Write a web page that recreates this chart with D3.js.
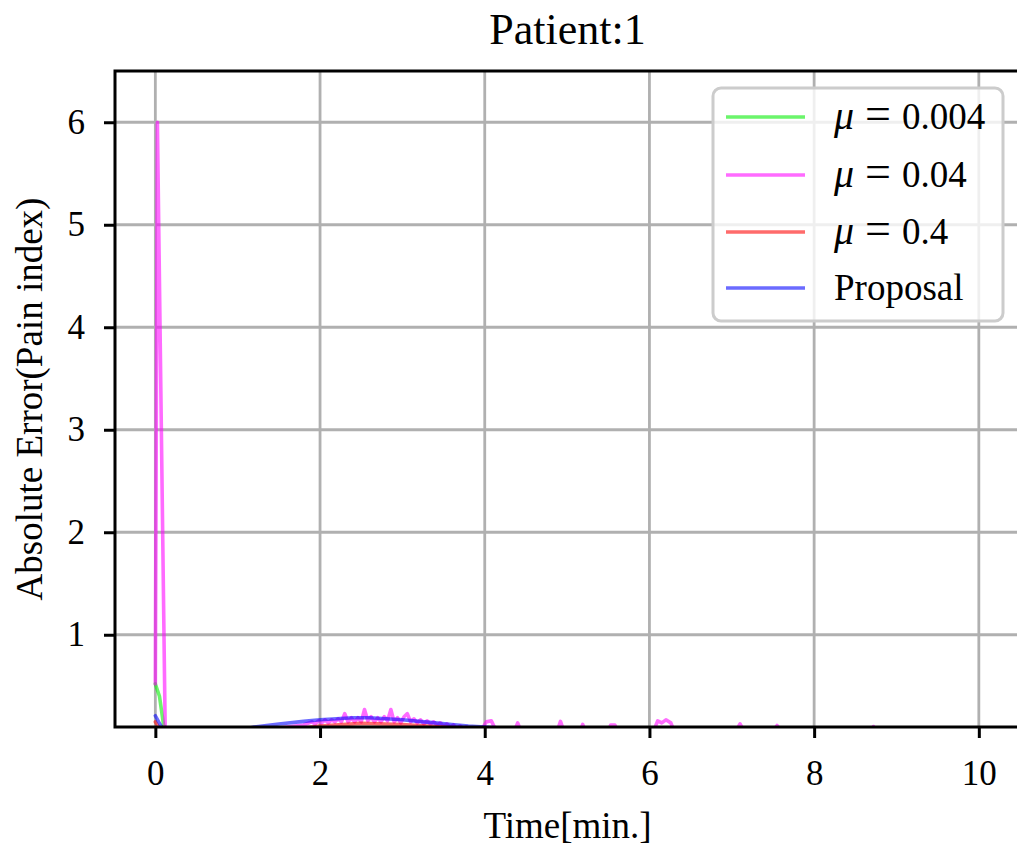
<!DOCTYPE html>
<html>
<head>
<meta charset="utf-8">
<script src="https://cdn.jsdelivr.net/npm/d3@7"></script>
<style>
  html, body { margin: 0; padding: 0; background: #fff; }
  svg { display: block; }
  text { font-family: "Liberation Serif", "Times New Roman", serif; fill: #000; }
</style>
</head>
<body>
<svg id="chart" width="1017" height="846"></svg>
<script>
// Absolute error of pain-index estimates over time, patient 1

const xTicks = [0, 2, 4, 6, 8, 10];
const yTicks = [1, 2, 3, 4, 5, 6];

const seriesNames = ["\u03bc = 0.004", "\u03bc = 0.04", "\u03bc = 0.4", "Proposal"];
const seriesColors = ["#00ee00", "#ff00ff", "#ff0000", "#0000ff"];

// μ = 0.004
const timeA = [0, 0.05, 0.1, 0.14, 1.5, 2.0, 2.5, 3.0, 3.5, 4.0, 10];
const errA  = [0.52, 0.4, 0.12, 0.05, 0.05, 0.07, 0.09, 0.085, 0.07, 0.05, 0.04];

// μ = 0.04
const timeB = [0, 0.025, 0.12, 0.3, 1.0, 1.4, 1.6, 1.8,
  1.90, 1.94, 1.98, 2.02, 2.06, 2.10, 2.14, 2.18, 2.22, 2.26, 2.30, 2.34,
  2.38, 2.42, 2.46, 2.50, 2.54, 2.58, 2.62, 2.66, 2.70, 2.74, 2.78, 2.82,
  2.86, 2.90, 2.94, 2.98, 3.02, 3.06, 3.10, 3.14, 3.18, 3.22, 3.26, 3.30,
  3.34, 3.38, 3.42, 3.46, 3.50, 3.54, 3.58, 3.62, 3.66, 3.70, 3.74, 3.78,
  3.82, 3.86, 3.90, 3.95, 4.02, 4.08, 4.14, 4.36, 4.40, 4.44, 4.88, 4.92,
  4.96, 5.16, 5.19, 5.22, 5.50, 5.53, 5.58, 5.61, 6.05, 6.10, 6.15, 6.20,
  6.26, 6.30, 7.05, 7.10, 7.15, 7.50, 7.55, 7.60, 8.70, 8.72, 8.75, 10];
const errB = [0.52, 6.0, 0.05, 0.04, 0.05, 0.08, 0.1, 0.12,
  0.15, 0.13, 0.16, 0.14, 0.17, 0.14, 0.17, 0.15, 0.18, 0.15, 0.23, 0.15,
  0.19, 0.15, 0.19, 0.15, 0.27, 0.16, 0.20, 0.15, 0.19, 0.15, 0.20, 0.16,
  0.27, 0.15, 0.19, 0.14, 0.20, 0.23, 0.15, 0.18, 0.14, 0.17, 0.13, 0.16,
  0.13, 0.15, 0.12, 0.14, 0.11, 0.13, 0.10, 0.12, 0.09, 0.11, 0.085, 0.10,
  0.08, 0.09, 0.07, 0.06, 0.15, 0.16, 0.06, 0.06, 0.14, 0.06, 0.06, 0.155,
  0.06, 0.06, 0.125, 0.06, 0.06, 0.12, 0.12, 0.06, 0.06, 0.16, 0.14, 0.17,
  0.14, 0.06, 0.06, 0.13, 0.06, 0.06, 0.115, 0.06, 0.06, 0.105, 0.06, 0.05];

// μ = 0.4
const timeC = [0, 0.05, 0.2, 1.5, 2.0, 2.5, 3.0, 3.5, 4.0, 10];
const errC  = [0.15, 0.08, 0.05, 0.06, 0.11, 0.135, 0.125, 0.1, 0.07, 0.05];

// Proposal
const timeD = [0, 0.04, 0.09, 0.2, 1.0, 1.2, 1.5, 1.8, 2.0, 2.2, 2.4, 2.6,
  2.8, 3.0, 3.2, 3.4, 3.6, 3.8, 4.0, 4.2, 5.0, 10];
const errD  = [0.21, 0.15, 0.08, 0.05, 0.06, 0.1, 0.13, 0.155, 0.17, 0.18,
  0.19, 0.19, 0.18, 0.17, 0.155, 0.14, 0.125, 0.11, 0.1, 0.09, 0.08, 0.08];

const times = [timeA, timeB, timeC, timeD];
const errs  = [errA, errB, errC, errD];

const svg = d3.select("#chart");
const margin = { left: 115, right: -3, top: 71, bottom: 119 };
const W = 1017, H = 846;
const x = d3.scaleLinear().domain([-0.49, 10.5]).range([margin.left, W - margin.right]);
const y = d3.scaleLinear().domain([0.1, 6.5]).range([H - margin.bottom, margin.top]);

const x0 = x.range()[0], x1 = x.range()[1];
const y0 = y.range()[0], y1 = y.range()[1];

svg.append("defs").append("clipPath").attr("id", "plotClip")
  .append("rect").attr("x", x0).attr("y", y1).attr("width", x1 - x0).attr("height", y0 - y1);

// grid
const grid = svg.append("g");
grid.selectAll("line.gx").data(xTicks).join("line")
  .attr("x1", d => x(d)).attr("x2", d => x(d)).attr("y1", y0).attr("y2", y1)
  .attr("stroke", "#b0b0b0").attr("stroke-width", 2.8);
grid.selectAll("line.gy").data(yTicks).join("line")
  .attr("x1", x0).attr("x2", x1).attr("y1", d => y(d)).attr("y2", d => y(d))
  .attr("stroke", "#b0b0b0").attr("stroke-width", 2.8);

// series
const line = d3.line().x(d => x(d[0])).y(d => y(d[1]));
const plot = svg.append("g").attr("clip-path", "url(#plotClip)");
times.forEach((t, i) => {
  const pts = t.map((v, k) => [v, errs[i][k]]);
  plot.append("path").datum(pts)
    .attr("d", line)
    .attr("fill", "none")
    .attr("stroke", seriesColors[i])
    .attr("stroke-opacity", 0.58)
    .attr("stroke-width", 3.6)
    .attr("stroke-linejoin", "round")
    .attr("stroke-linecap", "round");
});

// axes
const xAxis = svg.append("g").attr("transform", `translate(0,${y0})`)
  .call(d3.axisBottom(x).tickValues(xTicks).tickSize(11).tickPadding(22).tickFormat(d3.format("d")));
const yAxis = svg.append("g").attr("transform", `translate(${x0},0)`)
  .call(d3.axisLeft(y).tickValues(yTicks).tickSize(11).tickPadding(19).tickFormat(d3.format("d")));
[xAxis, yAxis].forEach(g => {
  g.select(".domain").remove();
  g.selectAll(".tick line").attr("stroke", "#000").attr("stroke-width", 3);
  g.selectAll(".tick text").attr("font-size", 35).attr("font-family", "Liberation Serif").attr("fill", "#000");
});

// spines
svg.append("rect").attr("x", x0).attr("y", y1).attr("width", x1 - x0).attr("height", y0 - y1)
  .attr("fill", "none").attr("stroke", "#000").attr("stroke-width", 3);

// labels
svg.append("text").attr("x", (x0 + x1) / 2).attr("y", 44).attr("text-anchor", "middle")
  .attr("font-size", 44).text("Patient:1");
svg.append("text").attr("x", (x0 + x1) / 2).attr("y", 838).attr("text-anchor", "middle")
  .attr("font-size", 37).text("Time[min.]");
svg.append("text").attr("transform", `translate(42,${(y0 + y1) / 2}) rotate(-90)`)
  .attr("text-anchor", "middle").attr("font-size", 37).text("Absolute Error(Pain index)");

// legend
const lg = svg.append("g");
lg.append("rect").attr("x", 713).attr("y", 88).attr("width", 290).attr("height", 233)
  .attr("rx", 8).attr("fill", "#fff").attr("fill-opacity", 0.8)
  .attr("stroke", "#cccccc").attr("stroke-width", 3);
const rowY = [117, 175, 232, 288];
seriesNames.forEach((name, i) => {
  lg.append("line").attr("x1", 726).attr("x2", 805).attr("y1", rowY[i]).attr("y2", rowY[i])
    .attr("stroke", seriesColors[i]).attr("stroke-opacity", 0.58).attr("stroke-width", 3.6);
  const t = lg.append("text").attr("x", 834).attr("y", rowY[i] + 12).attr("font-size", 37);
  if (name.startsWith("\u03bc")) {
    t.append("tspan").attr("font-style", "italic").attr("font-size", 40).text("\u03bc");
    t.append("tspan").attr("dx", 11).attr("font-size", 46).text("=");
    t.append("tspan").attr("dx", 11).text(name.split("= ")[1]);
  } else {
    t.text(name);
  }
});
</script>
</body>
</html>
